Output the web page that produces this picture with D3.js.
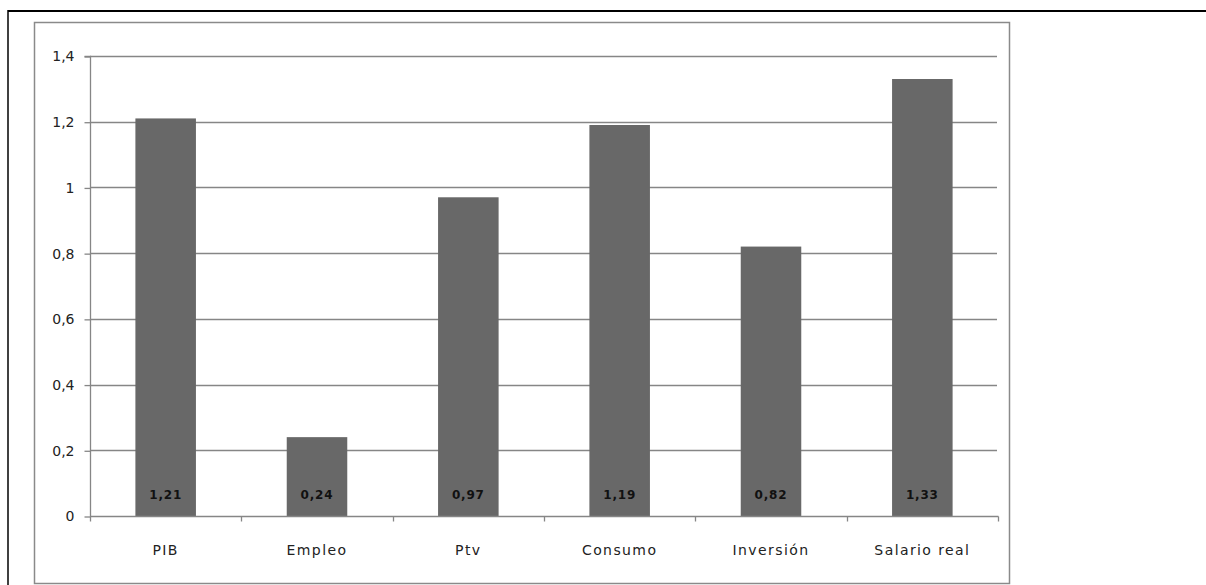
<!DOCTYPE html>
<html>
<head>
<meta charset="utf-8">
<script src="https://cdn.jsdelivr.net/npm/d3@7"></script>
<style>
  html, body { margin: 0; padding: 0; background: #fff; }
  svg { display: block; }
  text { font-family: "DejaVu Sans", "Liberation Sans", sans-serif; }
</style>
</head>
<body>
<svg id="chart" width="1206" height="585"></svg>
<script>
// Chart data
const categories = ["PIB", "Empleo", "Ptv", "Consumo", "Inversión", "Salario real"];
const values = [1.21, 0.24, 0.97, 1.19, 0.82, 1.33];
const yTicks = [0, 0.2, 0.4, 0.6, 0.8, 1, 1.2, 1.4];

const svg = d3.select("#chart");
const W = 1206, H = 585;

// Outer frame (top and left edges)
svg.append("line").attr("x1", 8).attr("x2", W).attr("y1", 11).attr("y2", 11)
  .attr("stroke", "#000").attr("stroke-width", 2);
svg.append("line").attr("x1", 8).attr("x2", 8).attr("y1", 10).attr("y2", H)
  .attr("stroke", "#000").attr("stroke-width", 1.5);

// Chart area border
svg.append("rect").attr("x", 34.5).attr("y", 22.5).attr("width", 975).attr("height", 561)
  .attr("fill", "none").attr("stroke", "#8a8a8a").attr("stroke-width", 1.5);

const plot = { left: 90, right: 998, top: 56, bottom: 516 };

const x = d3.scaleBand().domain(categories).range([plot.left, plot.right])
  .paddingInner(0.6).paddingOuter(0.3);
const xEdges = d3.scaleLinear().domain([0, categories.length]).range([plot.left, plot.right]);
const y = d3.scaleLinear().domain([0, 1.4]).range([plot.bottom, plot.top]);

const fmt = v => d3.format(",.2~f")(v).replace(".", ",");
const fmtTick = v => (Math.round(v * 10) / 10).toString().replace(".", ",");

// Horizontal gridlines
svg.append("g").selectAll("line").data(yTicks.filter(t => t > 0)).join("line")
  .attr("x1", plot.left).attr("x2", plot.right - 1)
  .attr("y1", d => Math.round(y(d)) + 0.5).attr("y2", d => Math.round(y(d)) + 0.5)
  .attr("stroke", "#868686").attr("stroke-width", 1.3);

// Bars
svg.append("g").selectAll("rect").data(values).join("rect")
  .attr("x", (d, i) => x(categories[i]))
  .attr("width", x.bandwidth())
  .attr("y", d => y(d))
  .attr("height", d => y(0) - y(d))
  .attr("fill", "#686868");

// Y axis
const yAxis = d3.axisLeft(y).tickValues(yTicks).tickSize(6).tickPadding(10).tickFormat(fmtTick);
const gy = svg.append("g").attr("transform", `translate(${plot.left + 0.5},0.5)`).call(yAxis);
gy.select(".domain").attr("stroke", "#868686").attr("stroke-width", 1.3).attr("d", `M-6,${plot.top}H0V${plot.bottom}`);
gy.selectAll(".tick line").attr("stroke", "#868686").attr("stroke-width", 1.3);
gy.selectAll(".tick text").attr("font-size", 14).attr("fill", "#222")
  .attr("font-family", "'DejaVu Sans', 'Liberation Sans', sans-serif");

// X axis with category-boundary ticks
const gx = svg.append("g").attr("transform", `translate(0,${plot.bottom + 0.5})`);
gx.append("line").attr("x1", plot.left).attr("x2", plot.right + 0.5).attr("y1", 0).attr("y2", 0)
  .attr("stroke", "#868686").attr("stroke-width", 1.3);
gx.selectAll("line.tk").data(d3.range(categories.length + 1)).join("line").attr("class", "tk")
  .attr("x1", d => Math.round(xEdges(d)) + 0.5).attr("x2", d => Math.round(xEdges(d)) + 0.5)
  .attr("y1", 0).attr("y2", 5)
  .attr("stroke", "#868686").attr("stroke-width", 1.3);
gx.selectAll("text").data(categories).join("text")
  .attr("x", d => x(d) + x.bandwidth() / 2)
  .attr("y", 38)
  .attr("text-anchor", "middle")
  .attr("font-size", 14)
  .attr("letter-spacing", 1.4)
  .attr("fill", "#222")
  .text(d => d);

// Value labels at the base of each bar
svg.append("g").selectAll("text").data(values).join("text")
  .attr("x", (d, i) => x(categories[i]) + x.bandwidth() / 2)
  .attr("y", plot.bottom - 17)
  .attr("text-anchor", "middle")
  .attr("font-size", 12)
  .attr("font-weight", "bold")
  .attr("letter-spacing", 0.8)
  .attr("fill", "#111")
  .text(d => fmt(d));
</script>
</body>
</html>
